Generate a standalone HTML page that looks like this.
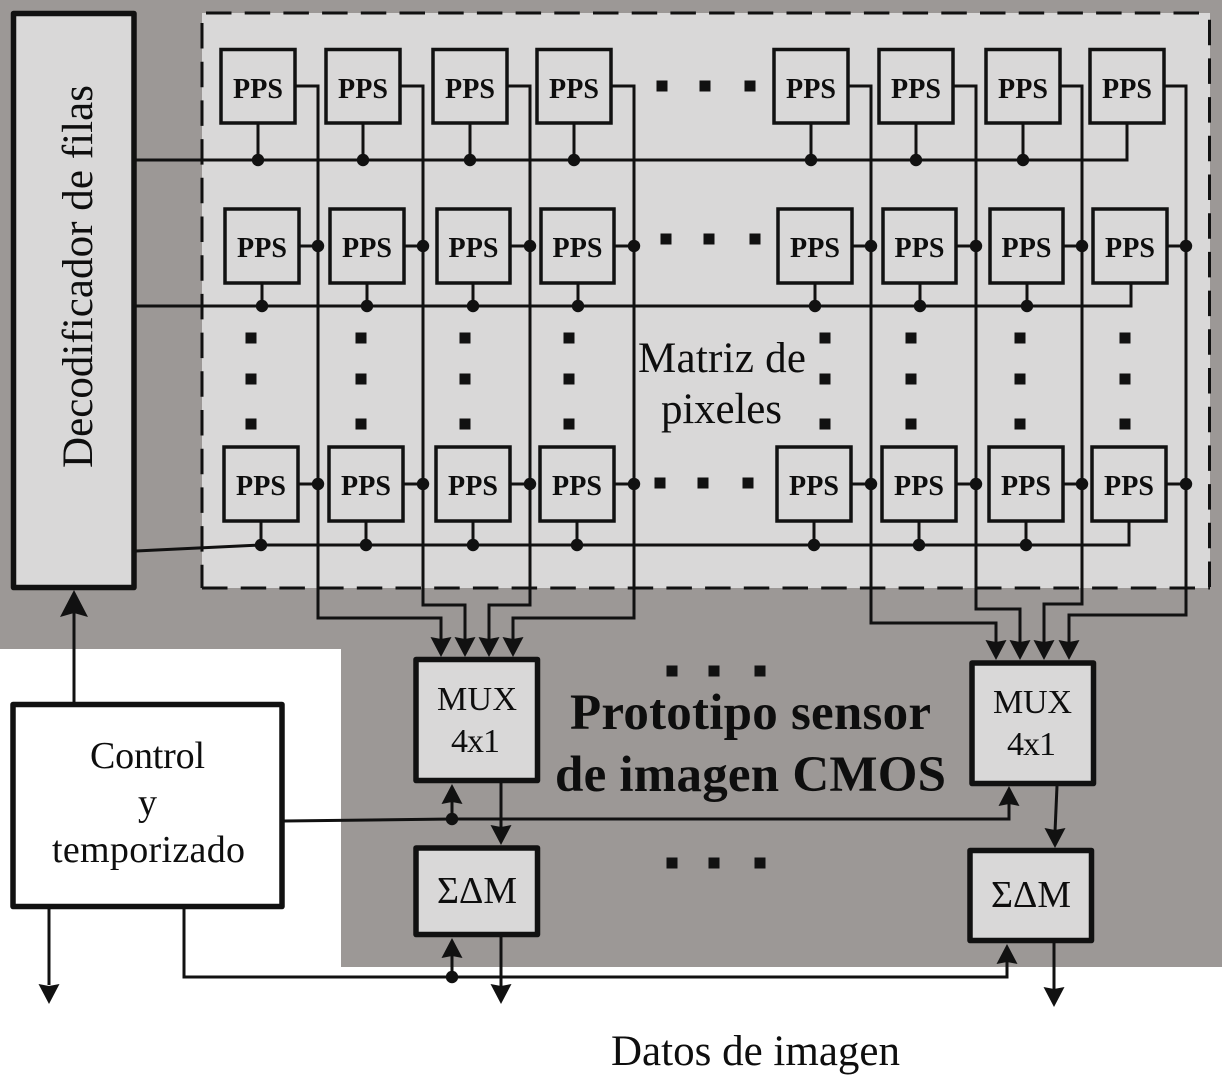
<!DOCTYPE html>
<html>
<head>
<meta charset="utf-8">
<style>
html,body{margin:0;padding:0;background:#fff;}
svg{display:block;}
text{font-family:"Liberation Serif",serif;fill:#0e0e0e;}
.p{font-size:28px;font-weight:bold;text-anchor:middle;}
.b{fill:#d9d8d8;stroke:#111;stroke-width:3.5;}
.t{fill:#d9d8d8;stroke:#111;stroke-width:5.5;stroke-linejoin:round;}
.l{fill:none;stroke:#111;stroke-width:3;}
.ds{fill:none;stroke:#111;stroke-width:3;stroke-dasharray:25.5,13.2;}
</style>
</head>
<body>
<svg xmlns="http://www.w3.org/2000/svg" width="1222" height="1075" viewBox="0 0 1222 1075">
<defs>
<polygon id="ad" points="0,0 -10.5,-20 0,-18 10.5,-20" fill="#111"/>
<polygon id="au" points="0,0 -10.5,20 0,18 10.5,20" fill="#111"/>
<rect id="sq" x="-5.5" y="-5.5" width="11" height="11" fill="#111"/>
<circle id="d" r="6.2" fill="#111"/>
</defs>
<rect width="1222" height="1075" fill="#fff"/>
<polygon points="0,0 1222,0 1222,967 341,967 341,649 0,649" fill="#9c9896"/>
<rect x="202" y="13" width="1008" height="575" fill="#d9d8d8"/>
<path class="ds" d="M206,13H1210"/>
<path class="ds" d="M202,588H1210"/>
<path class="ds" d="M202,23V588"/>
<path class="ds" d="M1209.5,587V13"/>

<!-- connectors -->
<g class="l">
<path class="l" d="M136,160H1127V123"/>
<path class="l" d="M136,306H1131V283"/>
<path class="l" d="M136,551L261,545H1129V521"/>
<path class="l" d="M295,86H318V618H441V640"/>
<path class="l" d="M400,86H423V605H465V640"/>
<path class="l" d="M507,86H530V605H489V640"/>
<path class="l" d="M611,86H634V618H513V640"/>
<path class="l" d="M848,86H871V623H996V644"/>
<path class="l" d="M953,86H976V609H1020V644"/>
<path class="l" d="M1060,86H1082V604H1044V644"/>
<path class="l" d="M1164,86H1186V615H1069V644"/>
<path class="l" d="M258,123V160M363,123V160M470,123V160M574,123V160M811,123V160M916,123V160M1023,123V160"/>
<path class="l" d="M262,283V306M367,283V306M473,283V306M578,283V306M815,283V306M920,283V306M1027,283V306"/>
<path class="l" d="M261,521V545M366,521V545M473,521V545M577,521V545M814,521V545M919,521V545M1026,521V545"/>
<path class="l" d="M299,246H318M404,246H423M510,246H530M614,246H634M852,246H871M956,246H976M1063,246H1082M1167,246H1186"/>
<path class="l" d="M298,484H318M403,484H423M510,484H530M614,484H634M851,484H871M956,484H976M1063,484H1082M1166,484H1186"/>
<path class="l" d="M74,703V610"/>
<path class="l" d="M284,821L452,819H1009V800"/>
<path class="l" d="M452,819V800"/>
<path class="l" d="M184,908V977H1007V960"/>
<path class="l" d="M452,977V955"/>
<path class="l" d="M49,908V985"/>
<path class="l" d="M501,783V830"/>
<path class="l" d="M501,937V988"/>
<path class="l" d="M1057,786L1055,832"/>
<path class="l" d="M1054,943V990"/>
</g>

<!-- PPS row 1 -->
<rect class="b" x="221" y="49.5" width="74" height="73.5"/><text class="p" x="258" y="98" textLength="50" lengthAdjust="spacing">PPS</text>
<rect class="b" x="326" y="49.5" width="74" height="73.5"/><text class="p" x="363" y="98" textLength="50" lengthAdjust="spacing">PPS</text>
<rect class="b" x="433" y="49.5" width="74" height="73.5"/><text class="p" x="470" y="98" textLength="50" lengthAdjust="spacing">PPS</text>
<rect class="b" x="537" y="49.5" width="74" height="73.5"/><text class="p" x="574" y="98" textLength="50" lengthAdjust="spacing">PPS</text>
<rect class="b" x="774" y="49.5" width="74" height="73.5"/><text class="p" x="811" y="98" textLength="50" lengthAdjust="spacing">PPS</text>
<rect class="b" x="879" y="49.5" width="74" height="73.5"/><text class="p" x="916" y="98" textLength="50" lengthAdjust="spacing">PPS</text>
<rect class="b" x="986" y="49.5" width="74" height="73.5"/><text class="p" x="1023" y="98" textLength="50" lengthAdjust="spacing">PPS</text>
<rect class="b" x="1090" y="49.5" width="74" height="73.5"/><text class="p" x="1127" y="98" textLength="50" lengthAdjust="spacing">PPS</text>
<!-- PPS row 2 -->
<rect class="b" x="225" y="209" width="74" height="74"/><text class="p" x="262" y="257" textLength="50" lengthAdjust="spacing">PPS</text>
<rect class="b" x="330" y="209" width="74" height="74"/><text class="p" x="367" y="257" textLength="50" lengthAdjust="spacing">PPS</text>
<rect class="b" x="437" y="209" width="73" height="74"/><text class="p" x="473.5" y="257" textLength="50" lengthAdjust="spacing">PPS</text>
<rect class="b" x="541" y="209" width="73" height="74"/><text class="p" x="577.5" y="257" textLength="50" lengthAdjust="spacing">PPS</text>
<rect class="b" x="778" y="209" width="74" height="74"/><text class="p" x="815" y="257" textLength="50" lengthAdjust="spacing">PPS</text>
<rect class="b" x="883" y="209" width="73" height="74"/><text class="p" x="919.5" y="257" textLength="50" lengthAdjust="spacing">PPS</text>
<rect class="b" x="990" y="209" width="73" height="74"/><text class="p" x="1026.5" y="257" textLength="50" lengthAdjust="spacing">PPS</text>
<rect class="b" x="1093" y="209" width="74" height="74"/><text class="p" x="1130" y="257" textLength="50" lengthAdjust="spacing">PPS</text>
<!-- PPS row 3 -->
<rect class="b" x="224" y="447" width="74" height="74"/><text class="p" x="261" y="495" textLength="50" lengthAdjust="spacing">PPS</text>
<rect class="b" x="329" y="447" width="74" height="74"/><text class="p" x="366" y="495" textLength="50" lengthAdjust="spacing">PPS</text>
<rect class="b" x="436" y="447" width="74" height="74"/><text class="p" x="473" y="495" textLength="50" lengthAdjust="spacing">PPS</text>
<rect class="b" x="540" y="447" width="74" height="74"/><text class="p" x="577" y="495" textLength="50" lengthAdjust="spacing">PPS</text>
<rect class="b" x="777" y="447" width="74" height="74"/><text class="p" x="814" y="495" textLength="50" lengthAdjust="spacing">PPS</text>
<rect class="b" x="882" y="447" width="74" height="74"/><text class="p" x="919" y="495" textLength="50" lengthAdjust="spacing">PPS</text>
<rect class="b" x="989" y="447" width="74" height="74"/><text class="p" x="1026" y="495" textLength="50" lengthAdjust="spacing">PPS</text>
<rect class="b" x="1092" y="447" width="74" height="74"/><text class="p" x="1129" y="495" textLength="50" lengthAdjust="spacing">PPS</text>

<!-- dots -->
<use href="#d" x="258" y="160"/><use href="#d" x="363" y="160"/><use href="#d" x="470" y="160"/><use href="#d" x="574" y="160"/><use href="#d" x="811" y="160"/><use href="#d" x="916" y="160"/><use href="#d" x="1023" y="160"/>
<use href="#d" x="262" y="306"/><use href="#d" x="367" y="306"/><use href="#d" x="473" y="306"/><use href="#d" x="578" y="306"/><use href="#d" x="815" y="306"/><use href="#d" x="920" y="306"/><use href="#d" x="1027" y="306"/>
<use href="#d" x="261" y="545"/><use href="#d" x="366" y="545"/><use href="#d" x="473" y="545"/><use href="#d" x="577" y="545"/><use href="#d" x="814" y="545"/><use href="#d" x="919" y="545"/><use href="#d" x="1026" y="545"/>
<use href="#d" x="318" y="246"/><use href="#d" x="423" y="246"/><use href="#d" x="530" y="246"/><use href="#d" x="634" y="246"/><use href="#d" x="871" y="246"/><use href="#d" x="976" y="246"/><use href="#d" x="1082" y="246"/><use href="#d" x="1186" y="246"/>
<use href="#d" x="318" y="484"/><use href="#d" x="423" y="484"/><use href="#d" x="530" y="484"/><use href="#d" x="634" y="484"/><use href="#d" x="871" y="484"/><use href="#d" x="976" y="484"/><use href="#d" x="1082" y="484"/><use href="#d" x="1186" y="484"/>
<use href="#d" x="452" y="819"/><use href="#d" x="452" y="977"/>

<!-- ellipsis squares -->
<use href="#sq" x="662" y="86"/><use href="#sq" x="705" y="86"/><use href="#sq" x="750" y="86"/>
<use href="#sq" x="666" y="239"/><use href="#sq" x="709" y="239"/><use href="#sq" x="755" y="239"/>
<use href="#sq" x="660" y="483"/><use href="#sq" x="703" y="483"/><use href="#sq" x="748" y="483"/>
<use href="#sq" x="672" y="671"/><use href="#sq" x="714" y="671"/><use href="#sq" x="760" y="671"/>
<use href="#sq" x="672" y="863"/><use href="#sq" x="714" y="863"/><use href="#sq" x="760" y="863"/>
<use href="#sq" x="251" y="338"/><use href="#sq" x="251" y="379"/><use href="#sq" x="251" y="424"/>
<use href="#sq" x="361" y="338"/><use href="#sq" x="361" y="379"/><use href="#sq" x="361" y="424"/>
<use href="#sq" x="465" y="338"/><use href="#sq" x="465" y="379"/><use href="#sq" x="465" y="424"/>
<use href="#sq" x="569" y="338"/><use href="#sq" x="569" y="379"/><use href="#sq" x="569" y="424"/>
<use href="#sq" x="825" y="338"/><use href="#sq" x="825" y="379"/><use href="#sq" x="825" y="424"/>
<use href="#sq" x="911" y="338"/><use href="#sq" x="911" y="379"/><use href="#sq" x="911" y="424"/>
<use href="#sq" x="1020" y="338"/><use href="#sq" x="1020" y="379"/><use href="#sq" x="1020" y="424"/>
<use href="#sq" x="1125" y="338"/><use href="#sq" x="1125" y="379"/><use href="#sq" x="1125" y="424"/>

<!-- thick boxes -->
<rect class="t" x="13.5" y="13.5" width="120.5" height="574" />
<rect x="13" y="704.5" width="269" height="202" fill="#fff" stroke="#111" stroke-width="5.5" stroke-linejoin="round"/>
<rect class="t" x="416" y="659.5" width="121.5" height="121"/>
<rect class="t" x="416" y="848" width="121.5" height="86.5"/>
<rect class="t" x="972" y="663" width="121.5" height="120.5"/>
<rect class="t" x="970" y="850.5" width="121.5" height="90"/>

<!-- arrowheads -->
<use href="#ad" x="441" y="657"/><use href="#ad" x="465" y="657"/><use href="#ad" x="489" y="657"/><use href="#ad" x="513" y="657"/>
<use href="#ad" x="996" y="660"/><use href="#ad" x="1020" y="660"/><use href="#ad" x="1044" y="660"/><use href="#ad" x="1069" y="660"/>
<use href="#ad" x="501" y="845"/><use href="#ad" x="501" y="1004"/>
<use href="#ad" x="1055" y="848"/><use href="#ad" x="1054" y="1007"/>
<use href="#ad" x="49" y="1004"/>
<polygon points="74,590 60,617 74,613 88,617" fill="#111"/>
<use href="#au" x="452" y="784"/><use href="#au" x="452" y="938"/>
<use href="#au" x="1009" y="786"/><use href="#au" x="1007" y="944"/>

<!-- labels -->
<text transform="translate(92,468) rotate(-90)" font-size="43" textLength="383" lengthAdjust="spacing">Decodificador de filas</text>
<text x="638" y="372" font-size="43" textLength="168" lengthAdjust="spacing">Matriz de</text>
<text x="661" y="423" font-size="43" textLength="121" lengthAdjust="spacing">pixeles</text>
<text x="570" y="729" font-size="51" font-weight="bold" textLength="361" lengthAdjust="spacing">Prototipo sensor</text>
<text x="555" y="791" font-size="51" font-weight="bold" textLength="391" lengthAdjust="spacing">de imagen CMOS</text>
<text x="437" y="710" font-size="34" textLength="80" lengthAdjust="spacing">MUX</text>
<text x="451" y="752" font-size="34" textLength="49" lengthAdjust="spacing">4x1</text>
<text x="437" y="903" font-size="38" textLength="80" lengthAdjust="spacingAndGlyphs">ΣΔM</text>
<text x="993" y="713" font-size="34" textLength="79" lengthAdjust="spacing">MUX</text>
<text x="1007" y="755" font-size="34" textLength="49" lengthAdjust="spacing">4x1</text>
<text x="991" y="907" font-size="38" textLength="80" lengthAdjust="spacingAndGlyphs">ΣΔM</text>
<text x="90" y="768" font-size="38" textLength="115" lengthAdjust="spacing">Control</text>
<text x="138" y="815" font-size="38">y</text>
<text x="52" y="862" font-size="38" textLength="193" lengthAdjust="spacing">temporizado</text>
<text x="611" y="1065" font-size="43" textLength="289" lengthAdjust="spacing">Datos de imagen</text>
</svg>
</body>
</html>
